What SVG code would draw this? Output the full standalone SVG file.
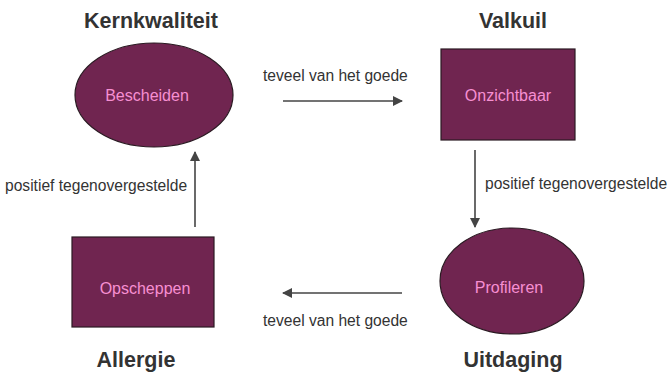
<svg xmlns="http://www.w3.org/2000/svg" width="667" height="374" viewBox="0 0 667 374">
<defs>
<style>
.title{font-family:"Liberation Sans",Arial,sans-serif;font-size:21.5px;font-weight:bold;fill:#333;text-anchor:middle}
.node{fill:#702550;stroke:#2a1a22;stroke-width:1.2}
.nlabel{font-family:"Liberation Sans",Arial,sans-serif;font-size:16px;fill:#f78fd2;text-anchor:middle}
.elabel{font-family:"Liberation Sans",Arial,sans-serif;font-size:15.6px;fill:#333}
.conn{stroke:#444;stroke-width:1.6;fill:none;marker-end:url(#ah)}
</style>
<marker id="ah" viewBox="0 0 10 10" refX="9" refY="5" markerWidth="11" markerHeight="10" markerUnits="userSpaceOnUse" orient="auto">
<path d="M0,0 L10,5 L0,10 z" fill="#444"/>
</marker>
</defs>
<rect width="667" height="374" fill="#fff"/>
<g id="kernkwaliteit">
<text class="title" x="151" y="28">Kernkwaliteit</text>
<ellipse class="node" cx="154" cy="95" rx="79" ry="52"/>
<text class="nlabel" x="147" y="101">Bescheiden</text>
</g>
<g id="valkuil">
<text class="title" x="513" y="28">Valkuil</text>
<rect class="node" x="441" y="49" width="134" height="91"/>
<text class="nlabel" x="508" y="101">Onzichtbaar</text>
</g>
<g id="allergie">
<rect class="node" x="72" y="237" width="142" height="90"/>
<text class="nlabel" x="145" y="294">Opscheppen</text>
<text class="title" x="136" y="367">Allergie</text>
</g>
<g id="uitdaging">
<ellipse class="node" cx="512" cy="281" rx="72" ry="53"/>
<text class="nlabel" x="509" y="293">Profileren</text>
<text class="title" x="513" y="367">Uitdaging</text>
</g>
<g id="connectors">
<line class="conn" x1="283" y1="101" x2="402" y2="101"/>
<text class="elabel" x="263" y="81">teveel van het goede</text>
<line class="conn" x1="475" y1="150" x2="475" y2="227"/>
<text class="elabel" x="485" y="189">positief tegenovergestelde</text>
<line class="conn" x1="402" y1="293" x2="283" y2="293"/>
<text class="elabel" x="263" y="326">teveel van het goede</text>
<line class="conn" x1="195" y1="227" x2="195" y2="152"/>
<text class="elabel" x="5" y="191">positief tegenovergestelde</text>
</g>
</svg>
